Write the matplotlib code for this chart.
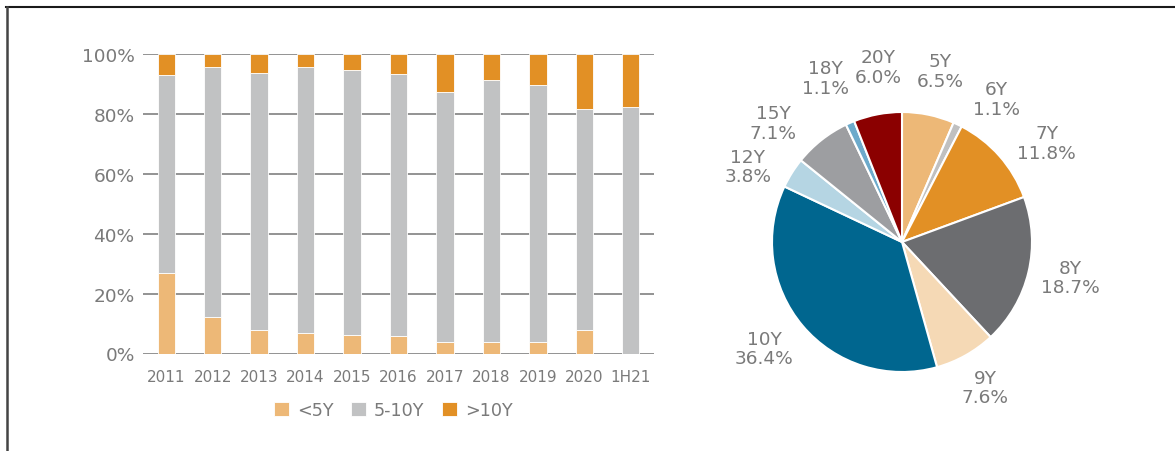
import numpy as np
import matplotlib
matplotlib.use("Agg")
import matplotlib.pyplot as plt
from matplotlib.lines import Line2D

# --- data ---
years = ["2011", "2012", "2013", "2014", "2015", "2016", "2017", "2018", "2019", "2020", "1H21"]
lt5 = [26.8, 12.2, 7.7, 6.7, 6.3, 5.8, 3.7, 4.0, 3.7, 7.8, 0.0]
gt10 = [7.0, 4.3, 6.5, 4.3, 5.6, 6.8, 12.7, 8.7, 10.4, 18.3, 17.8]
mid = [100 - a - b for a, b in zip(lt5, gt10)]
series_names = ["<5Y", "5-10Y", ">10Y"]

tenors = ["5Y", "6Y", "7Y", "8Y", "9Y", "10Y", "12Y", "15Y", "18Y", "20Y"]
shares = [6.5, 1.1, 11.8, 18.7, 7.6, 36.4, 3.8, 7.1, 1.1, 6.0]

# --- styles ---
bar_colors = ["#EDB877", "#C1C2C3", "#E29025"]
pie_colors = ["#EDB877", "#C0C0C0", "#E29025", "#6C6D70", "#F5D9B5",
              "#00668F", "#B5D5E3", "#9D9EA1", "#6CAACB", "#8B0000"]
label_nudge = [-1, -8, -7, 1.5, 0.5, -2.5, 6, 9, 1.5, -3]   # deg, to avoid overlaps
label_dist = [1.35, 1.32, 1.35, 1.32, 1.29, 1.34, 1.32, 1.35, 1.39, 1.36]
txt = "#7a7a7a"
plt.rcParams["font.family"] = "DejaVu Sans"

W, H = 1175, 452
fig = plt.figure(figsize=(W / 100, H / 100), dpi=100)

# --- stacked bars ---
ax = fig.add_axes([143 / W, 97.5 / H, 511 / W, 299.8 / H])
x = np.arange(len(years))
bottom = np.zeros(len(years))
for vals, c, name in zip([lt5, mid, gt10], bar_colors, series_names):
    ax.bar(x, vals, width=0.375, bottom=bottom, color=c, edgecolor="white",
           linewidth=0.6, label=name, zorder=3)
    bottom += np.array(vals)

ax.set_xlim(-0.5, len(years) - 0.5)
ax.set_ylim(0, 100)
ax.set_yticks(np.arange(0, 101, 20))
ax.set_yticklabels([f"{v}%" for v in range(0, 101, 20)])
ax.set_xticks(x)
ax.set_xticklabels(years)
ax.yaxis.grid(True, color="#8a8a8a", linewidth=1.3, zorder=0)
ax.set_axisbelow(True)
for s in ax.spines.values():
    s.set_visible(False)
ax.tick_params(axis="both", length=0, colors=txt)
ax.tick_params(axis="y", labelsize=13.3, pad=6)
ax.tick_params(axis="x", labelsize=11, pad=11.5)

ax.legend(loc="center", bbox_to_anchor=(393 / W, (H - 411) / H), bbox_transform=fig.transFigure,
          ncol=3, frameon=False, fontsize=12.7, labelcolor=txt,
          handlelength=0.85, handleheight=0.85, handletextpad=0.45,
          columnspacing=1.0)

# --- pie ---
cx, cy, r = 902, 452 - 243, 130
half = 200
pax = fig.add_axes([(cx - half) / W, (cy - half) / H, 2 * half / W, 2 * half / H])
wedges, _ = pax.pie(shares, colors=pie_colors, startangle=90, counterclock=False,
                    wedgeprops=dict(edgecolor="white", linewidth=1.5))
lim = half / r
pax.set_xlim(-lim, lim)
pax.set_ylim(-lim, lim)
pax.set_aspect("equal")
pax.axis("off")

for w, name, v, dn, d in zip(wedges, tenors, shares, label_nudge, label_dist):
    ang = np.deg2rad((w.theta1 + w.theta2) / 2 + dn)
    pax.text(d * np.cos(ang), d * np.sin(ang), f"{name}\n{v:.1f}%",
             ha="center", va="center", fontsize=13.3, color=txt, linespacing=1.12)

# --- frame lines (top and left only) ---
fig.add_artist(Line2D([6 / W, 1], [1 - 8 / H, 1 - 8 / H], color="#1a1a1a", lw=1.5,
                      transform=fig.transFigure))
fig.add_artist(Line2D([6.5 / W, 6.5 / W], [0, 1 - 8 / H], color="#444444", lw=1.8,
                      transform=fig.transFigure))

fig.savefig("out.png", dpi=100, facecolor="white")
